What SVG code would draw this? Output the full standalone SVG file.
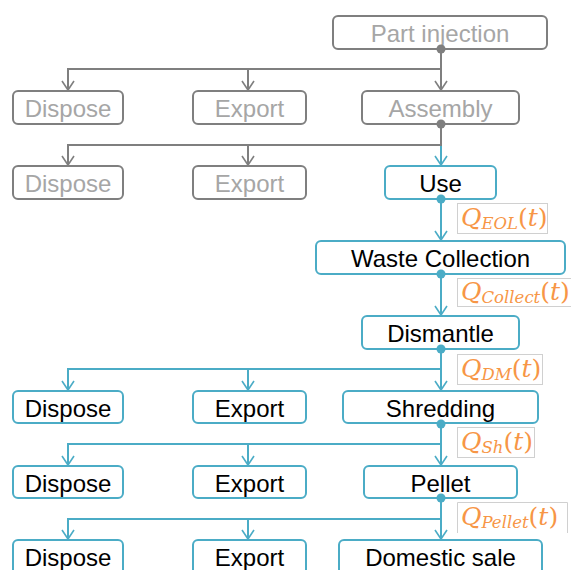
<svg xmlns="http://www.w3.org/2000/svg" width="571" height="570" viewBox="0 0 571 570">
<defs>
<style>
.gbox{fill:#fff;stroke:#7f7f7f;stroke-width:2}
.bbox{fill:#fff;stroke:#4bacc6;stroke-width:2}
.gt{font-family:"Liberation Sans",Arial,sans-serif;font-size:24px;fill:#a6a6a6;text-anchor:middle}
.bt{font-family:"Liberation Sans",Arial,sans-serif;font-size:24px;fill:#000;text-anchor:middle}
.gl{fill:none;stroke:#7f7f7f;stroke-width:2}
.bl{fill:none;stroke:#4bacc6;stroke-width:2}
.gd{fill:#7f7f7f}
.bd{fill:#4bacc6}
.lbox{fill:#fff;stroke:#d0d0d0;stroke-width:1}
.q{font-family:"DejaVu Serif",serif;font-size:25px;fill:#f79646}
.qi{font-style:italic}
.sub{font-style:italic;font-size:16.5px}
</style>
<marker id="ga" markerUnits="userSpaceOnUse" markerWidth="14" markerHeight="14" viewBox="-11 -7 13 14" refX="0" refY="0" orient="auto" overflow="visible">
<path d="M-9,-6 L0,0 L-9,6" fill="none" stroke="#7f7f7f" stroke-width="1.6"/>
</marker>
<marker id="ba" markerUnits="userSpaceOnUse" markerWidth="14" markerHeight="14" viewBox="-11 -7 13 14" refX="0" refY="0" orient="auto" overflow="visible">
<path d="M-9,-6 L0,0 L-9,6" fill="none" stroke="#4bacc6" stroke-width="1.6"/>
</marker>
</defs>
<rect width="571" height="570" fill="#fff"/>

<g id="connectors">
<path class="gl" d="M441,49 V90" marker-end="url(#ga)"/>
<path class="gl" d="M441,69 H68 V90" marker-end="url(#ga)"/>
<path class="gl" d="M248,69 V90" marker-end="url(#ga)"/>
<path class="bl" d="M441,121 V165" marker-end="url(#ba)"/>
<circle class="bd" cx="441" cy="121" r="4.5"/>
<path class="gl" d="M441,124 V145 H68 V165" marker-end="url(#ga)"/>
<path class="gl" d="M248,145 V165" marker-end="url(#ga)"/>
<path class="bl" d="M441,199 V240" marker-end="url(#ba)"/>
<path class="bl" d="M441,274 V315" marker-end="url(#ba)"/>
<path class="bl" d="M441,349 V390" marker-end="url(#ba)"/>
<path class="bl" d="M441,369 H68 V390" marker-end="url(#ba)"/>
<path class="bl" d="M248,369 V390" marker-end="url(#ba)"/>
<path class="bl" d="M441,424 V465" marker-end="url(#ba)"/>
<path class="bl" d="M441,444 H68 V465" marker-end="url(#ba)"/>
<path class="bl" d="M248,444 V465" marker-end="url(#ba)"/>
<path class="bl" d="M441,498 V539" marker-end="url(#ba)"/>
<path class="bl" d="M441,519 H68 V539" marker-end="url(#ba)"/>
<path class="bl" d="M248,519 V539" marker-end="url(#ba)"/>
</g>

<g id="part-injection"><rect class="gbox" x="333" y="16" width="214" height="33" rx="5"/><text class="gt" x="440" y="42">Part injection</text></g>
<g id="dispose-1"><rect class="gbox" x="13" y="91" width="110" height="33" rx="5"/><text class="gt" x="68" y="117">Dispose</text></g>
<g id="export-1"><rect class="gbox" x="193" y="91" width="113" height="33" rx="5"/><text class="gt" x="249.5" y="117">Export</text></g>
<g id="assembly"><rect class="gbox" x="362" y="91" width="157" height="33" rx="5"/><text class="gt" x="440.5" y="117">Assembly</text></g>
<g id="dispose-2"><rect class="gbox" x="13" y="166" width="110" height="33" rx="5"/><text class="gt" x="68" y="192">Dispose</text></g>
<g id="export-2"><rect class="gbox" x="193" y="166" width="113" height="33" rx="5"/><text class="gt" x="249.5" y="192">Export</text></g>
<g id="use"><rect class="bbox" x="385" y="166" width="111" height="33" rx="5"/><text class="bt" x="440.5" y="192">Use</text></g>
<g id="waste-collection"><rect class="bbox" x="316" y="241" width="249" height="33" rx="5"/><text class="bt" x="440.5" y="267">Waste Collection</text></g>
<g id="dismantle"><rect class="bbox" x="362" y="316" width="157" height="33" rx="5"/><text class="bt" x="440.5" y="342">Dismantle</text></g>
<g id="dispose-3"><rect class="bbox" x="13" y="391" width="110" height="32" rx="5"/><text class="bt" x="68" y="417">Dispose</text></g>
<g id="export-3"><rect class="bbox" x="193" y="391" width="113" height="32" rx="5"/><text class="bt" x="249.5" y="417">Export</text></g>
<g id="shredding"><rect class="bbox" x="343" y="391" width="195" height="32" rx="5"/><text class="bt" x="440.5" y="417">Shredding</text></g>
<g id="dispose-4"><rect class="bbox" x="13" y="466" width="110" height="32" rx="5"/><text class="bt" x="68" y="492">Dispose</text></g>
<g id="export-4"><rect class="bbox" x="193" y="466" width="113" height="32" rx="5"/><text class="bt" x="249.5" y="492">Export</text></g>
<g id="pellet"><rect class="bbox" x="364" y="466" width="153" height="32" rx="5"/><text class="bt" x="440.5" y="492">Pellet</text></g>
<g id="dispose-5"><rect class="bbox" x="13" y="540" width="110" height="40" rx="5"/><text class="bt" x="68" y="566">Dispose</text></g>
<g id="export-5"><rect class="bbox" x="193" y="540" width="113" height="40" rx="5"/><text class="bt" x="249.5" y="566">Export</text></g>
<g id="domestic-sale"><rect class="bbox" x="339" y="540" width="203" height="40" rx="5"/><text class="bt" x="440.5" y="566">Domestic sale</text></g>

<g id="dots">
<circle class="gd" cx="441" cy="49" r="4.5"/>
<circle class="gd" cx="441" cy="124" r="4.5"/>
<circle class="bd" cx="441" cy="199" r="4.5"/>
<circle class="bd" cx="441" cy="274" r="4.5"/>
<circle class="bd" cx="441" cy="349" r="4.5"/>
<circle class="bd" cx="441" cy="424" r="4.5"/>
<circle class="bd" cx="441" cy="498" r="4.5"/>
</g>

<g id="labels">
<rect class="lbox" x="457.5" y="203.5" width="90" height="30"/>
<text class="q" x="461" y="226"><tspan class="qi">Q</tspan><tspan class="sub" dy="3">EOL</tspan><tspan dy="-3">(</tspan><tspan class="qi">t</tspan>)</text>
<rect class="lbox" x="457.5" y="278.5" width="116" height="28"/>
<text class="q" x="461" y="300"><tspan class="qi">Q</tspan><tspan class="sub" dy="3">Collect</tspan><tspan dy="-3">(</tspan><tspan class="qi">t</tspan>)</text>
<rect class="lbox" x="457.5" y="354.5" width="85" height="30"/>
<text class="q" x="461" y="377"><tspan class="qi">Q</tspan><tspan class="sub" dy="3">DM</tspan><tspan dy="-3">(</tspan><tspan class="qi">t</tspan>)</text>
<rect class="lbox" x="457.5" y="427.5" width="77" height="30"/>
<text class="q" x="461" y="450"><tspan class="qi">Q</tspan><tspan class="sub" dy="3">Sh</tspan><tspan dy="-3">(</tspan><tspan class="qi">t</tspan>)</text>
<path class="lbox" d="M457.5,533 V502.5 H567.5 V533"/>
<text class="q" x="461" y="525"><tspan class="qi">Q</tspan><tspan class="sub" dy="3">Pellet</tspan><tspan dy="-3">(</tspan><tspan class="qi">t</tspan>)</text>
</g>
</svg>
